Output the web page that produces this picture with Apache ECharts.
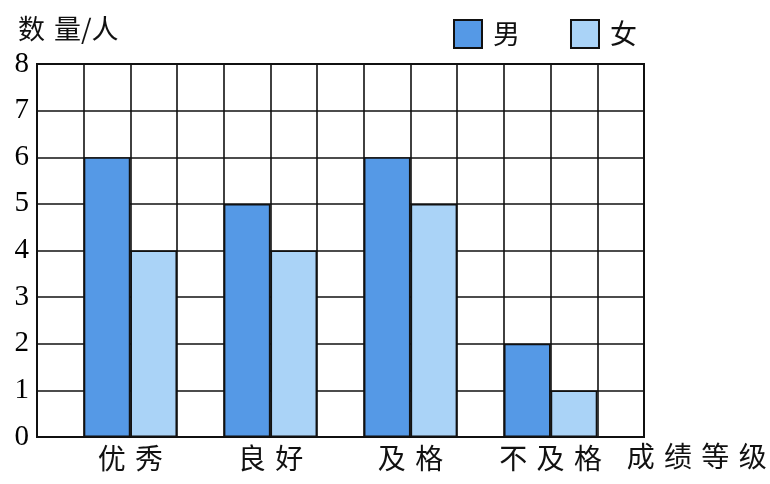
<!DOCTYPE html>
<html>
<head>
<meta charset="utf-8">
<script src="https://cdn.jsdelivr.net/npm/echarts@6/dist/echarts.min.js"></script>
<style>html,body{margin:0;padding:0;background:#fff}#c{width:770px;height:484px}</style>
</head>
<body>
<div id="c"></div>
<script>
// ---- data ----
const categories = ['优秀', '良好', '及格', '不及格'];
const boys = [6, 5, 6, 2];
const girls = [4, 4, 5, 1];
const seriesNames = ['男', '女'];
const yTicks = [0, 1, 2, 3, 4, 5, 6, 7, 8];
const yTitle = '数量/人';
const xTitle = '成绩等级';

// ---- layout ----
const W = 770, H = 484;
const plotL = 37, plotR = 644, plotT = 64, plotB = 437;
const nCols = 13;
const col = (plotR - plotL) / nCols;
const bandL = plotL + 0.5 * col, bandR = plotL + 12.5 * col;
const CJK = '"Noto Sans CJK SC", sans-serif';
const SERIF = '"Liberation Serif", "DejaVu Serif", serif';
const sp = s => s.split('').join('\u2004');

const chart = echarts.init(document.getElementById('c'), null, {renderer: 'canvas'});
chart.setOption({
  backgroundColor: '#fff',
  animation: false,
  grid: [
    {left: plotL, right: W - plotR, top: plotT, bottom: H - plotB, show: true,
     borderColor: '#111', borderWidth: 2, backgroundColor: 'transparent', z: 0},
    {left: bandL, right: W - bandR, top: plotT, bottom: H - plotB}
  ],
  xAxis: [
    {gridIndex: 0, type: 'value', min: 0, max: nCols, interval: 1,
     axisLine: {show: false}, axisTick: {show: false}, axisLabel: {show: false},
     splitLine: {show: true, lineStyle: {color: '#111', width: 1.6}}},
    {gridIndex: 1, type: 'category', data: categories,
     axisLine: {show: false}, axisTick: {show: false},
     axisLabel: {margin: 7, fontSize: 28, color: '#111', fontFamily: CJK, formatter: v => sp(v)},
     name: sp(xTitle), nameLocation: 'end', nameGap: 6,
     nameTextStyle: {fontSize: 28, color: '#111', fontFamily: CJK, verticalAlign: 'top', padding: [5, 0, 0, 0]}}
  ],
  yAxis: [
    {gridIndex: 0, type: 'value', min: yTicks[0], max: yTicks[yTicks.length - 1], interval: 1,
     axisLine: {show: false}, axisTick: {show: false},
     axisLabel: {margin: 8, fontSize: 29, color: '#000', fontFamily: SERIF},
     splitLine: {show: true, lineStyle: {color: '#111', width: 1.6}}},
    {gridIndex: 1, type: 'value', min: yTicks[0], max: yTicks[yTicks.length - 1], interval: 1, show: false}
  ],
  legend: {
    left: 453, top: 19, padding: 0, itemWidth: 28, itemHeight: 28, itemGap: 50,
    icon: 'rect',
    textStyle: {fontSize: 27, color: '#111', fontFamily: CJK, padding: [0, 0, 0, 6]},
    data: seriesNames
  },
  graphic: [
    {type: 'text', left: 18, top: 15,
     style: {text: sp('数量') + '/人', fontSize: 27, fill: '#111', fontFamily: CJK}}
  ],
  series: [
    {name: seriesNames[0], type: 'bar', xAxisIndex: 1, yAxisIndex: 1, data: boys,
     barWidth: '33.333%', barGap: '0%', z: 3,
     itemStyle: {color: '#5599e6', borderColor: '#111', borderWidth: 1.6}},
    {name: seriesNames[1], type: 'bar', xAxisIndex: 1, yAxisIndex: 1, data: girls,
     barWidth: '33.333%', barGap: '0%', z: 3,
     itemStyle: {color: '#aad3f7', borderColor: '#111', borderWidth: 1.6}}
  ]
});
</script>
</body>
</html>
